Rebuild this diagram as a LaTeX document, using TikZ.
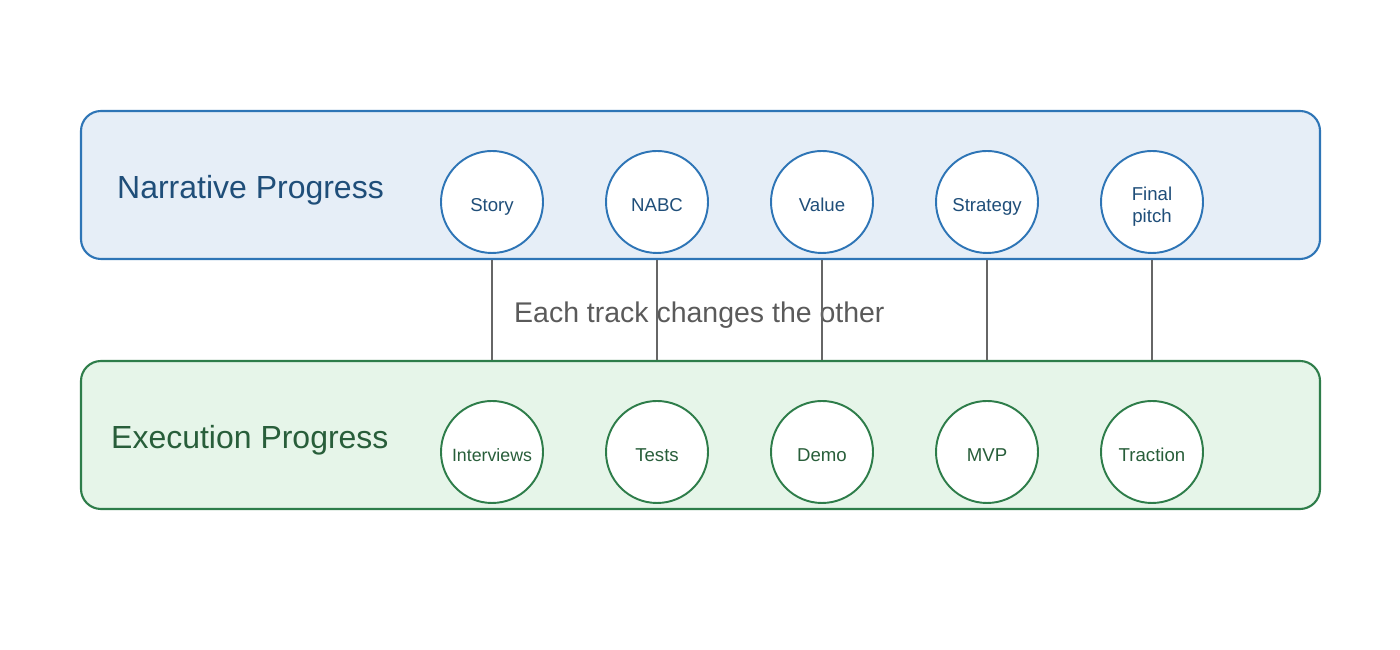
\documentclass[tikz,border=0pt]{standalone}
\usepackage{fontspec}
\setmainfont{Liberation Sans}
\usepackage{tikz}
\usetikzlibrary{positioning, calc}
\usepackage{xcolor}
\definecolor{narrBlue}{RGB}{46, 117, 182}
\definecolor{narrFill}{RGB}{230, 238, 247}
\definecolor{narrText}{RGB}{31, 78, 121}
\definecolor{execGreen}{RGB}{46, 125, 74}
\definecolor{execFill}{RGB}{230, 245, 233}
\definecolor{execText}{RGB}{40, 94, 58}
\definecolor{linkGray}{RGB}{102, 102, 102}
\definecolor{noteGray}{RGB}{90, 90, 90}

\begin{document}
\begin{tikzpicture}[
    every node/.style={font=\fontsize{10.6}{12.5}\selectfont},
    track/.style={rectangle, rounded corners=0.4cm, minimum width=24.78cm, minimum height=2.96cm, line width=1.2pt},
    narrtrack/.style={track, draw=narrBlue, fill=narrFill},
    exectrack/.style={track, draw=execGreen, fill=execFill},
    milestone/.style={circle, fill=white, minimum size=2.04cm, inner sep=0pt, line width=1.1pt, align=center, text height=10.5pt, text depth=0pt},
    narrstone/.style={milestone, draw=narrBlue, text=narrText},
    execstone/.style={milestone, draw=execGreen, text=execText},
    tracklabel/.style={font=\fontsize{18.2}{22}\selectfont, anchor=west},
    link/.style={draw=linkGray, line width=0.85pt},
]
\useasboundingbox (0,0) rectangle (28,13);
\node[narrtrack] (narr) at (14.01, 9.30) {};
\node[exectrack] (exec) at (14.01, 4.30) {};
\node[tracklabel, text=narrText] (narrlbl) at (2.22, 9.20) {Narrative Progress};
\node[tracklabel, text=execText] (execlbl) at (2.10, 4.20) {Execution Progress};
\node[narrstone] (n1) at (9.84, 8.96) {Story};
\node[narrstone] (n2) at (13.14, 8.96) {NABC};
\node[narrstone] (n3) at (16.44, 8.96) {Value};
\node[narrstone] (n4) at (19.74, 8.96) {Strategy};
\node[narrstone, text height=23.4pt] (n5) at (23.04, 8.96) {Final\\pitch};
\node[execstone, font=\fontsize{10.1}{12}\selectfont] (e1) at (9.84, 3.96) {Interviews};
\node[execstone] (e2) at (13.14, 3.96) {Tests};
\node[execstone] (e3) at (16.44, 3.96) {Demo};
\node[execstone] (e4) at (19.74, 3.96) {MVP};
\node[execstone] (e5) at (23.04, 3.96) {Traction};
\node[anchor=west, text=noteGray, font=\fontsize{16.2}{19}\selectfont] (note) at (10.16, 6.70) {Each track changes the other};
\draw[link] (n1 |- narr.south) -- (e1 |- exec.north);
\draw[link] (n2 |- narr.south) -- (e2 |- exec.north);
\draw[link] (n3 |- narr.south) -- (e3 |- exec.north);
\draw[link] (n4 |- narr.south) -- (e4 |- exec.north);
\draw[link] (n5 |- narr.south) -- (e5 |- exec.north);
\end{tikzpicture}
\end{document}
